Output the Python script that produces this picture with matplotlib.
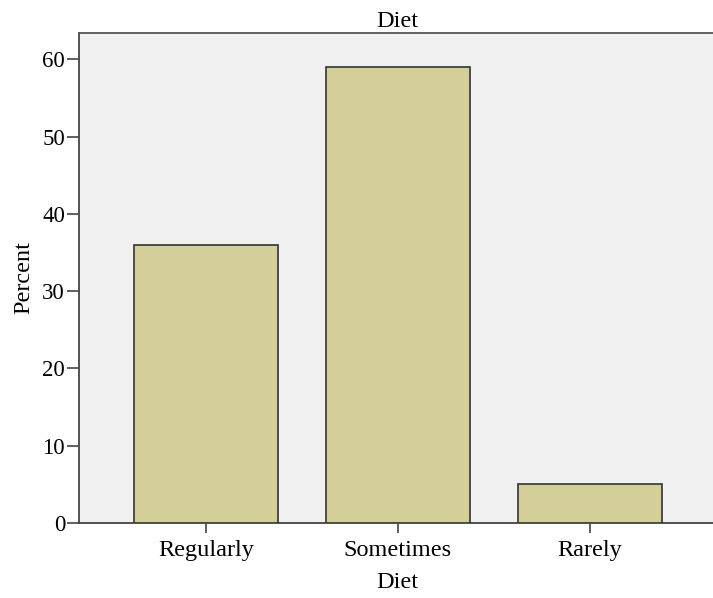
import matplotlib
matplotlib.use("Agg")
import matplotlib.pyplot as plt

categories = ["Regularly", "Sometimes", "Rarely"]
percent = [36, 59, 5]
yticks = [0, 10, 20, 30, 40, 50, 60]

plt.rcParams['font.family'] = ['Liberation Serif', 'DejaVu Serif']

fig = plt.figure(figsize=(7.13, 5.98), dpi=100)
ax = fig.add_axes([79/713, 75/598, 1.0 - 79/713 + 0.005, (523-33)/598])
ax.set_facecolor('#F0F0F0')
x = list(range(len(categories)))
ax.bar(x, percent, width=0.75, color='#D4CF98', edgecolor='#333333', linewidth=1.2, zorder=3)
ax.set_xlim(-0.66, 2.66)
ax.set_ylim(0, 63.4)
ax.set_yticks(yticks)
ax.set_xticks(x)
ax.set_xticklabels(categories)
ax.tick_params(axis='x', labelsize=17.5, length=7, width=1.2, color='#444444', direction='out', pad=5)
ax.tick_params(axis='y', labelsize=16.5, length=9, width=1.2, color='#444444', direction='out', pad=1)
for s in ['left', 'bottom', 'top', 'right']:
    ax.spines[s].set_color('#555555')
    ax.spines[s].set_linewidth(1.3)
ax.spines['left'].set_color('#444444')
ax.spines['bottom'].set_color('#444444')
ax.set_xlabel('Diet', fontsize=17.5, labelpad=8)
ax.set_ylabel('Percent', fontsize=17.5, labelpad=6)
ax.set_title('Diet', fontsize=17.5, pad=4)
fig.savefig('out.png', dpi=100)
